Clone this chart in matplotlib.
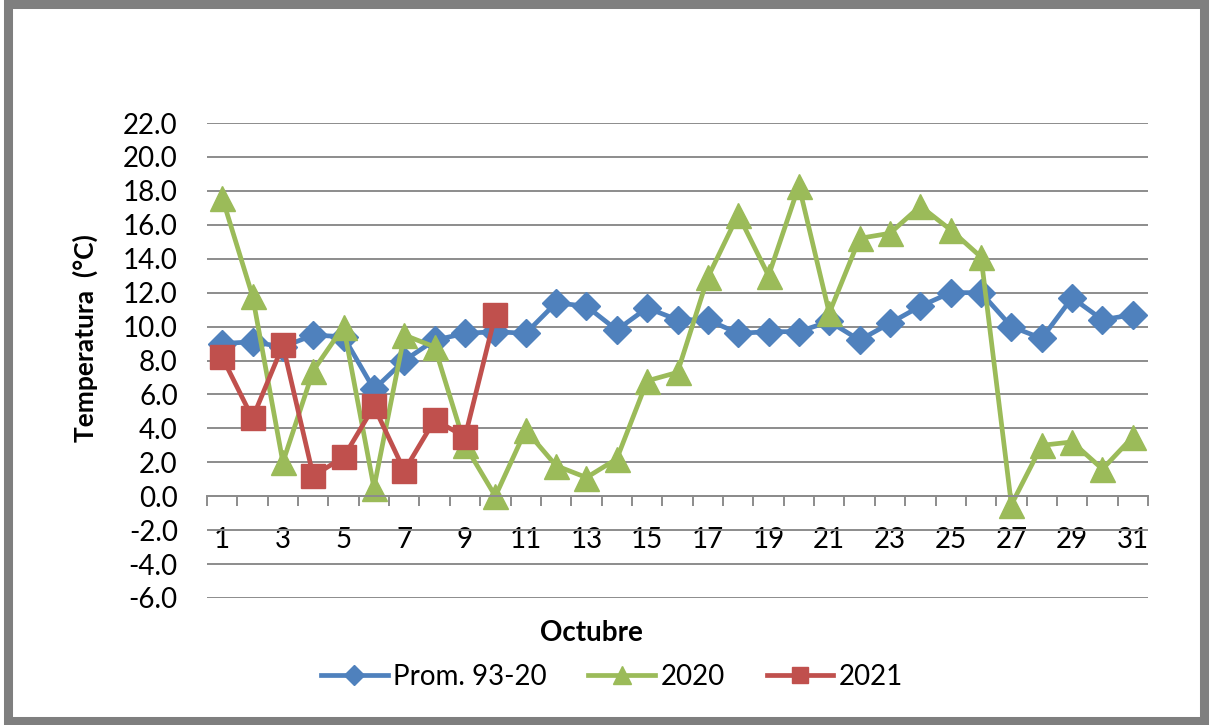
import numpy as np
import matplotlib
matplotlib.use('Agg')
import matplotlib.pyplot as plt
import matplotlib.ticker as mtick
from matplotlib.patches import Rectangle

plt.rcParams['font.family'] = ['Lato', 'DejaVu Sans']

days = list(range(1, 32))
prom_93_20 = [9.0, 9.1, 8.8, 9.5, 9.4, 6.3, 8.0, 9.2, 9.6, 9.7, 9.6,
              11.4, 11.2, 9.8, 11.1, 10.4, 10.4, 9.6, 9.7, 9.7, 10.3,
              9.2, 10.2, 11.2, 12.0, 12.0, 10.0, 9.3, 11.7, 10.4, 10.7]
t_2020 = [17.6, 11.8, 2.0, 7.4, 10.0, 0.5, 9.5, 8.8, 3.0, 0.0, 3.9,
          1.8, 1.1, 2.2, 6.8, 7.3, 12.9, 16.6, 13.0, 18.3, 10.8,
          15.2, 15.5, 17.1, 15.7, 14.1, -0.5, 3.0, 3.2, 1.6, 3.5]
t_2021 = [8.2, 4.6, 8.9, 1.2, 2.3, 5.3, 1.5, 4.5, 3.5, 10.7]

C_BLUE = '#4F81BD'
C_GREEN = '#9BBB59'
C_RED = '#C0504D'

W, H = 1212, 725
fig = plt.figure(figsize=(W / 100, H / 100), dpi=100)
# outer grey frame like the excel chart area
fig.patches.append(Rectangle((8 / W, 4 / H), (W - 16) / W, (H - 8) / H, transform=fig.transFigure,
                             fill=False, edgecolor='#7f7f7f', linewidth=6.5))

ax = fig.add_axes([207 / W, (H - 598) / H, (1148 - 207) / W, (598 - 123) / H])
ax.plot(days, prom_93_20, color=C_BLUE, lw=3.4, marker='D', ms=14, label='Prom. 93-20')
ax.plot(days, t_2020, color=C_GREEN, lw=3.4, marker='^', ms=18, label='2020')
ax.plot(days[:len(t_2021)], t_2021, color=C_RED, lw=3.4, marker='s', ms=17, label='2021')

ax.set_ylim(-6, 22)
ax.set_xlim(0.5, 31.5)
ax.yaxis.set_major_locator(mtick.MultipleLocator(2))
ax.yaxis.set_major_formatter(mtick.FormatStrFormatter('%.1f'))
ax.grid(axis='y', color='#8c8c8c', lw=1.4)
ax.set_axisbelow(True)

for s in ['top', 'right', 'left']:
    ax.spines[s].set_visible(False)
ax.spines['bottom'].set_position(('data', 0))
ax.spines['bottom'].set_color('#8c8c8c')
ax.spines['bottom'].set_linewidth(1.4)

ax.set_xticks(days[::2])
ax.set_xticks(np.arange(0.5, 32, 1), minor=True)
ax.tick_params(axis='x', which='major', length=0, pad=22, labelsize=20)
ax.tick_params(axis='x', which='minor', length=7, width=1.4, color='#8c8c8c', direction='out')
ax.tick_params(axis='y', length=0, pad=21, labelsize=20)

fig.text(85 / W, 1 - 338 / H, 'Temperatura  (°C)', rotation=90, ha='center', va='center',
         fontsize=19, fontweight='bold')
fig.text(591 / W, 1 - 633 / H, 'Octubre', ha='center', va='center', fontsize=20, fontweight='bold')

fig.legend(loc='center', bbox_to_anchor=(612 / W, 1 - 677 / H), ncol=3, frameon=False,
           fontsize=20, handlelength=2.4, columnspacing=1.5, handletextpad=0.2, markerscale=0.7)

plt.savefig('out.png', dpi=100)
